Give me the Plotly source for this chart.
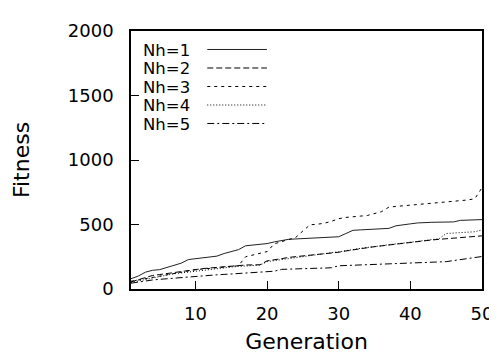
import plotly.graph_objects as go

generations = list(range(1, 51))
nh1 = [80, 100, 130, 145, 150, 165, 185, 200, 228, 235, 240, 248, 255, 275, 292, 305, 335, 340, 345, 352,
       365, 375, 385, 388, 390, 392, 394, 396, 398, 405, 430, 455, 458, 462, 465, 468, 470, 490, 500, 505,
       512, 517, 517, 518, 518, 520, 532, 534, 536, 538]
nh2 = [55, 70, 85, 105, 112, 120, 130, 138, 145, 152, 158, 163, 168, 174, 180, 186, 186, 187, 188, 218,
       225, 235, 245, 252, 258, 263, 268, 273, 278, 285, 295, 305, 312, 320, 328, 335, 342, 348, 355, 362,
       370, 375, 380, 385, 390, 395, 400, 404, 408, 412]
nh3 = [60, 70, 85, 95, 105, 115, 125, 135, 145, 150, 155, 160, 165, 170, 172, 180, 250, 265, 280, 290,
       350, 365, 380, 400, 450, 498, 502, 510, 525, 545, 555, 562, 565, 570, 585, 600, 635, 640, 645, 648,
       650, 655, 660, 665, 670, 675, 680, 690, 700, 785]
nh4 = [50, 62, 75, 88, 100, 108, 118, 125, 132, 140, 146, 152, 158, 165, 170, 175, 178, 180, 185, 212,
       220, 228, 238, 248, 255, 262, 268, 275, 282, 288, 298, 308, 315, 322, 330, 337, 345, 350, 356, 362,
       368, 375, 382, 390, 430, 433, 436, 440, 444, 458]
nh5 = [45, 55, 62, 70, 75, 80, 85, 90, 94, 98, 102, 106, 110, 113, 116, 120, 124, 128, 131, 134,
       138, 152, 155, 157, 158, 160, 161, 162, 165, 180, 182, 184, 186, 188, 190, 192, 194, 196, 198, 200,
       202, 204, 206, 208, 212, 220, 228, 236, 244, 252]

series_names = ["Nh=1", "Nh=2", "Nh=3", "Nh=4", "Nh=5"]
series_values = [nh1, nh2, nh3, nh4, nh5]
dashes = ["solid", "6px,3px", "3px,4px", "1px,2px", "7px,3px,2px,3px"]
colors = ["#222222", "black", "black", "black", "black"]

FONT = "DejaVu Sans"
fig = go.Figure()
for name, vals, d, c in zip(series_names, series_values, dashes, colors):
    fig.add_trace(go.Scatter(x=generations, y=vals, mode="lines", name=name,
                             line=dict(color=c, width=1, dash=d), showlegend=False))

# manual legend (text on the left, line sample on the right)
W, H = 497, 354
L, R, T, B = 123, 15, 15, 67
pw, ph = W - L - R, H - T - B
def px(x):
    return (x - L) / pw
def py(y):
    return (H - B - y) / ph

row_y = [35.5, 55, 74.5, 94, 113.5]
for name, d, c, yy in zip(series_names, dashes, colors, row_y):
    fig.add_annotation(x=px(134), y=py(yy), xref="paper", yref="paper", text=name,
                       showarrow=False, xanchor="left", yanchor="middle",
                       borderpad=0, valign="middle",
                       font=dict(family=FONT, size=16.5, color="black"))
    fig.add_shape(type="line", xref="paper", yref="paper", x0=px(201), x1=px(262),
                  y0=py(yy - 1), y1=py(yy - 1), line=dict(color=c, width=1, dash=d))

fig.update_layout(
    width=W, height=H,
    margin=dict(l=L, r=R, t=T, b=B),
    paper_bgcolor="white", plot_bgcolor="white",
    font=dict(family=FONT, size=18, color="black"),
    showlegend=False,
)
fig.update_xaxes(range=[1, 50], tickvals=[10, 20, 30, 40, 50], ticks="inside", ticklen=8,
                 tickwidth=1, tickcolor="black", showline=True, linecolor="black", linewidth=1.5,
                 mirror=True, showgrid=False, zeroline=False, ticklabelstandoff=8,
                 title=dict(text="Generation", standoff=10))
fig.update_yaxes(range=[0, 2000], tickvals=[0, 500, 1000, 1500, 2000], ticks="inside", ticklen=8,
                 tickwidth=1, tickcolor="black", showline=True, linecolor="black", linewidth=1.5,
                 mirror=True, showgrid=False, zeroline=False, ticklabelstandoff=12,
                 title=dict(text="Fitness", standoff=32))

fig.write_html("out.html")
